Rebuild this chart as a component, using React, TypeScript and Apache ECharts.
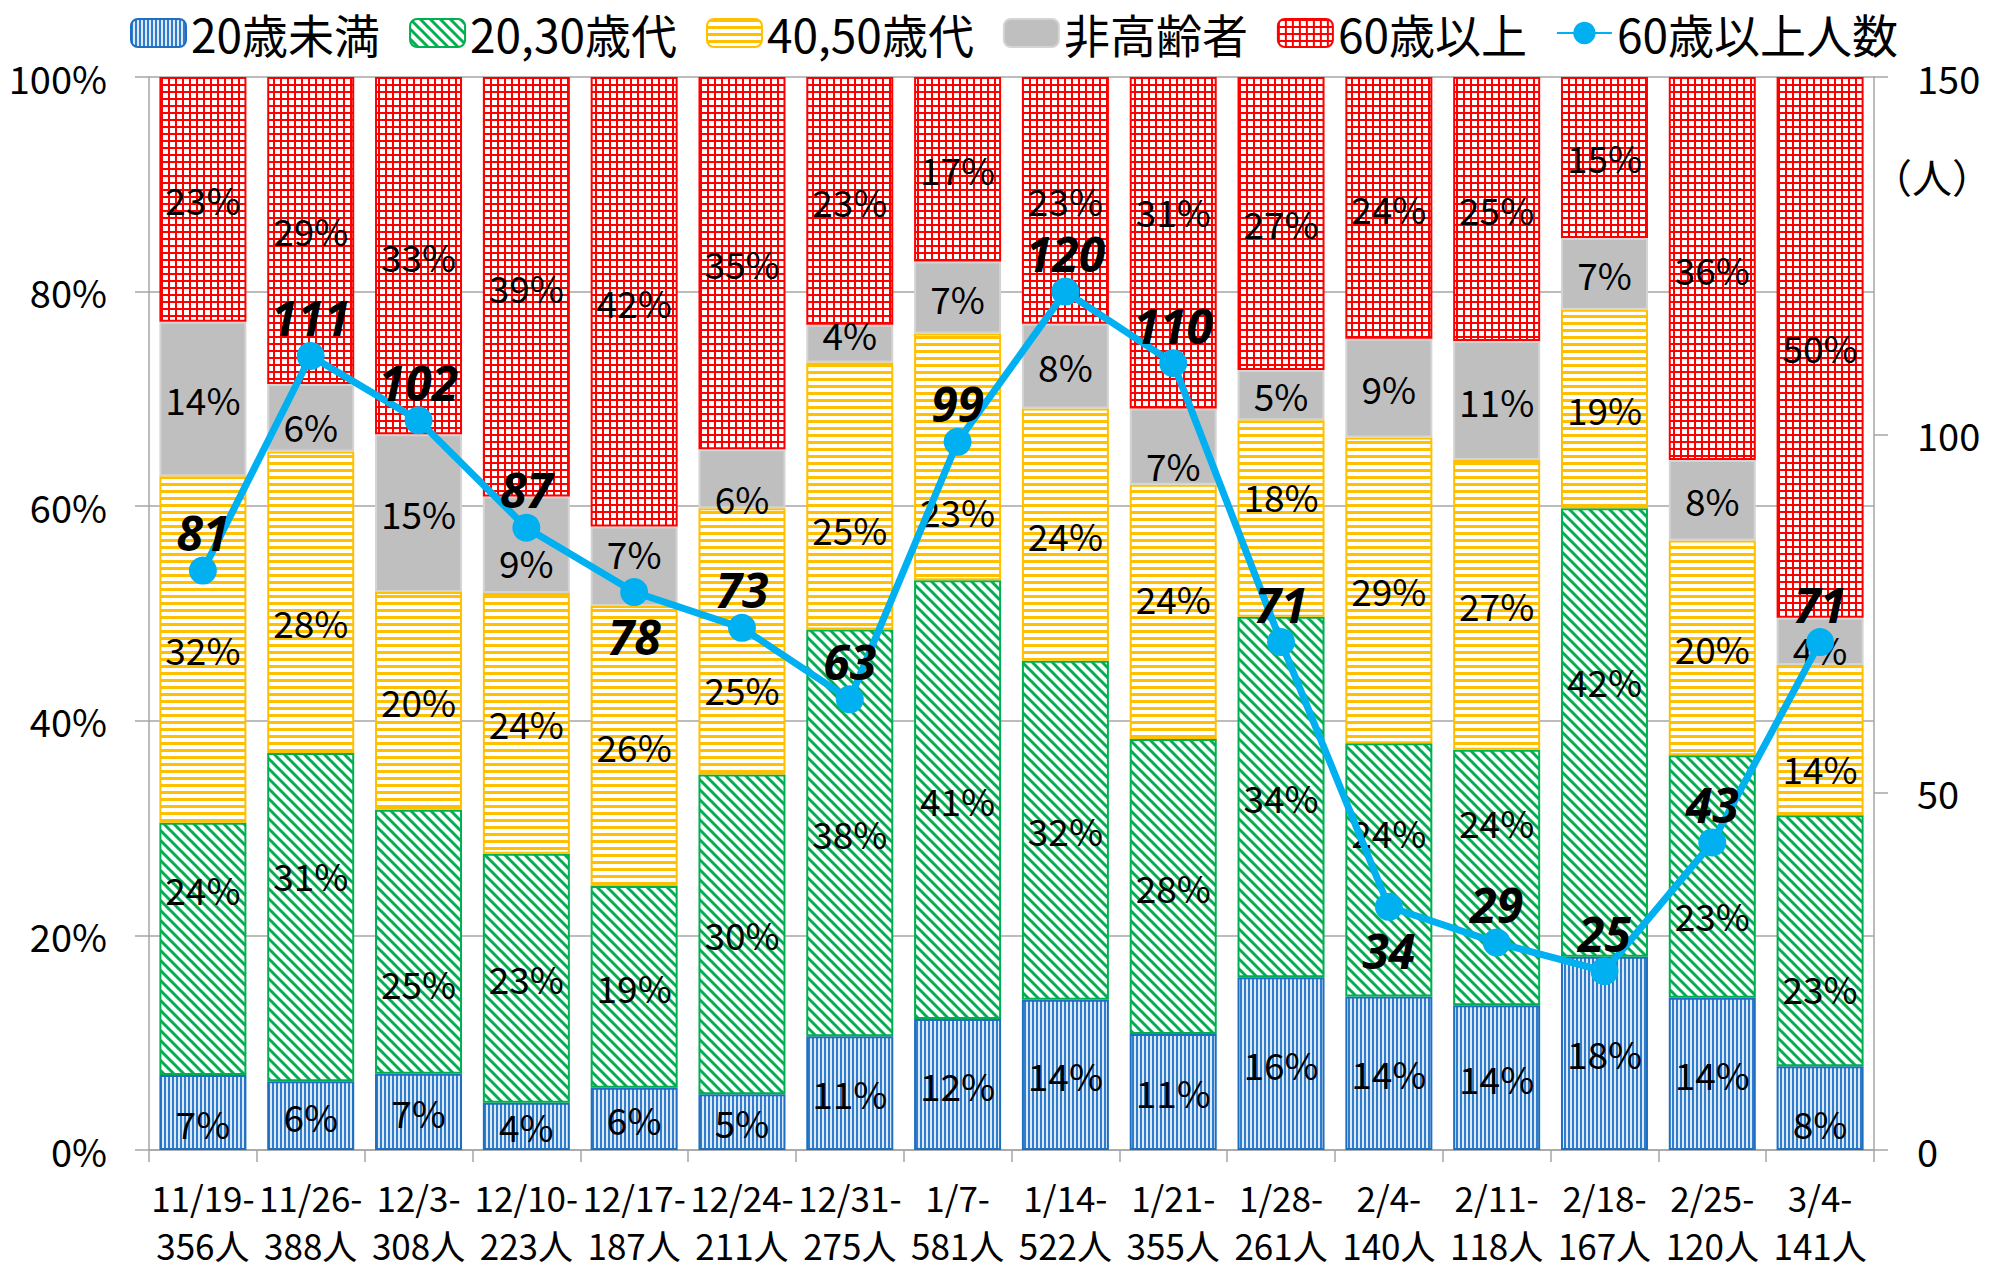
import React, { useEffect, useRef } from "react";
import * as echarts from "echarts";

const weekStarts = ["11/19-", "11/26-", "12/3-", "12/10-", "12/17-", "12/24-", "12/31-", "1/7-", "1/14-", "1/21-", "1/28-", "2/4-", "2/11-", "2/18-", "2/25-", "3/4-"];
const weeklyTotals = [356, 388, 308, 223, 187, 211, 275, 581, 522, 355, 261, 140, 118, 167, 120, 141];

const under20 = [7.0, 6.4, 7.1, 4.4, 5.8, 5.2, 10.6, 12.2, 14.0, 10.8, 16.1, 14.3, 13.5, 18.0, 14.2, 7.8];
const age2030 = [23.5, 30.6, 24.6, 23.2, 18.8, 29.8, 37.9, 40.9, 31.6, 27.5, 33.6, 23.6, 23.8, 41.8, 22.6, 23.4];
const age4050 = [32.3, 28.1, 20.3, 24.3, 26.1, 24.8, 24.9, 23.0, 23.5, 23.7, 18.3, 28.5, 27.0, 18.5, 20.0, 14.0];
const nonElderly = [14.4, 6.3, 14.7, 9.0, 7.4, 5.5, 3.5, 6.7, 7.9, 7.1, 4.7, 9.2, 11.1, 6.7, 7.5, 4.4];
const over60 = [22.8, 28.6, 33.3, 39.1, 41.9, 34.7, 23.1, 17.2, 23.0, 30.9, 27.3, 24.4, 24.6, 15.0, 35.7, 50.4];
const over60Count = [81, 111, 102, 87, 78, 73, 63, 99, 120, 110, 71, 34, 29, 25, 43, 71];
const belowLabelIdx = [4, 11];

const leftTicks = { min: 0, max: 100, interval: 20 };
const rightTicks = { min: 0, max: 150, interval: 50 };

// vertical nudges (px) of the hand-placed percentage labels, per series
const labelNudge: Record<string, Record<number, number>> = {
  "20歳未満": { 0: 11, 15: 15 },
  "20,30歳代": { 0: -60, 1: -42, 2: 41, 11: -38, 12: -55, 13: -52, 14: 39, 15: 47 },
  "40,50歳代": { 1: 20, 5: 48, 6: 33, 7: 54, 9: -14, 10: -23, 15: 28 },
  "非高齢者": { 1: 8, 3: 17, 4: -13, 5: 19, 6: -10, 9: 18, 15: 8 },
  "60歳以上": { 9: -32 },
};

const FONT = "'Noto Sans CJK JP', 'Noto Sans', sans-serif";

function makeCanvas(w: number, h: number, draw: (c: CanvasRenderingContext2D) => void) {
  const cv = document.createElement("canvas");
  cv.width = w;
  cv.height = h;
  const ctx = cv.getContext("2d")!;
  draw(ctx);
  return cv;
}

function patterns() {
  const blue = makeCanvas(4, 4, (c) => {
    c.fillStyle = "#dbe9f8";
    c.fillRect(0, 0, 4, 4);
    c.fillStyle = "#2f7dcc";
    c.fillRect(0, 0, 2, 4);
  });
  const green = makeCanvas(10, 10, (c) => {
    c.fillStyle = "#ffffff";
    c.fillRect(0, 0, 10, 10);
    c.strokeStyle = "#00b050";
    c.lineWidth = 3;
    for (const k of [-10, 0, 10]) {
      c.beginPath();
      c.moveTo(k - 1, -1);
      c.lineTo(k + 11, 11);
      c.stroke();
    }
  });
  const yellow = makeCanvas(7, 7, (c) => {
    c.fillStyle = "#ffffff";
    c.fillRect(0, 0, 7, 7);
    c.fillStyle = "#ffc000";
    c.fillRect(0, 0, 7, 3);
  });
  const red = makeCanvas(7, 7, (c) => {
    c.fillStyle = "#ffffff";
    c.fillRect(0, 0, 7, 7);
    c.fillStyle = "#ff0000";
    c.fillRect(0, 0, 7, 2);
    c.fillRect(0, 0, 2, 7);
  });
  return { blue, green, yellow, red };
}

export default function App() {
  const ref = useRef<HTMLDivElement>(null);
  useEffect(() => {
    document.body.style.margin = "0";
    const chart = echarts.init(ref.current!, undefined, { renderer: "svg" });
    const p = patterns();
    const categories = weekStarts.map((w, i) => `${w}\n${weeklyTotals[i]}人`);
    const pctLabel = {
      show: true,
      position: "inside" as const,
      formatter: (v: any) => `${Math.round(v.value)}%`,
      fontSize: 37,
      color: "#000",
      fontFamily: FONT,
    };
    const barSeries = (name: string, data: number[], fill: any, border: string) => ({
      name,
      type: "bar",
      stack: "pct",
      data: data.map((v, i) => {
        const dy = labelNudge[name]?.[i];
        return dy ? { value: v, label: { offset: [0, dy] } } : v;
      }),
      barWidth: 87,
      itemStyle: { color: fill, borderColor: border, borderWidth: 2 },
      label: pctLabel,
      emphasis: { disabled: true },
    });
    chart.setOption({
      animation: false,
      textStyle: { fontFamily: FONT },
      legend: {
        left: 130,
        top: 10,
        padding: 0,
        itemWidth: 55,
        itemHeight: 28,
        itemGap: 29,
        textStyle: { fontSize: 46, color: "#000", fontFamily: FONT },
        data: ["20歳未満", "20,30歳代", "40,50歳代", "非高齢者", "60歳以上", "60歳以上人数"],
      },
      grid: { left: 149, right: 123, top: 77, bottom: 116, containLabel: false },
      xAxis: {
        type: "category",
        data: categories,
        axisLine: { lineStyle: { color: "#a6a6a6", width: 1.5 } },
        axisTick: { show: true, length: 12, lineStyle: { color: "#a6a6a6", width: 1.5 } },
        axisLabel: { interval: 0, fontSize: 35, lineHeight: 48, margin: 22, color: "#000", fontFamily: FONT },
      },
      yAxis: [
        {
          type: "value",
          ...leftTicks,
          axisLine: { show: true, lineStyle: { color: "#a6a6a6", width: 1.5 } },
          axisTick: { show: true, length: 14, lineStyle: { color: "#a6a6a6", width: 1.5 } },
          axisLabel: { formatter: "{value}%", fontSize: 38, margin: 42, color: "#000", fontFamily: FONT },
          splitLine: { lineStyle: { color: "#a6a6a6", width: 1.5 } },
        },
        {
          type: "value",
          position: "right",
          ...rightTicks,
          axisLine: { show: true, lineStyle: { color: "#a6a6a6", width: 1.5 } },
          axisTick: { show: true, length: 14, lineStyle: { color: "#a6a6a6", width: 1.5 } },
          axisLabel: { fontSize: 38, margin: 43, color: "#000", fontFamily: FONT },
          splitLine: { show: false },
        },
      ],
      series: [
        barSeries("20歳未満", under20, { image: p.blue, repeat: "repeat" }, "#1f6fc0"),
        barSeries("20,30歳代", age2030, { image: p.green, repeat: "repeat" }, "#00b050"),
        barSeries("40,50歳代", age4050, { image: p.yellow, repeat: "repeat" }, "#ffc000"),
        barSeries("非高齢者", nonElderly, "#bfbfbf", "#d4d4d4"),
        barSeries("60歳以上", over60, { image: p.red, repeat: "repeat" }, "#ff0000"),
        {
          name: "60歳以上人数",
          type: "line",
          yAxisIndex: 1,
          z: 10,
          data: over60Count.map((v, i) =>
            belowLabelIdx.includes(i) ? { value: v, label: { position: "bottom", distance: 6 } } : v
          ),
          symbol: "circle",
          symbolSize: 28,
          lineStyle: { color: "#00b0f0", width: 7 },
          itemStyle: { color: "#00b0f0" },
          label: {
            show: true,
            position: "top",
            distance: 0,
            fontSize: 48,
            fontWeight: "bold",
            fontStyle: "italic",
            color: "#000",
            fontFamily: "'Noto Sans', sans-serif",
          },
          emphasis: { disabled: true },
        },
      ],
      graphic: [
        {
          type: "text",
          left: 1872,
          top: 156,
          style: { text: "（人）", fontSize: 40, fill: "#000", fontFamily: FONT },
        },
      ],
    });
    return () => chart.dispose();
  }, []);
  return <div ref={ref} style={{ position: "absolute", left: 0, top: 0, width: 1997, height: 1268 }} />;
}
